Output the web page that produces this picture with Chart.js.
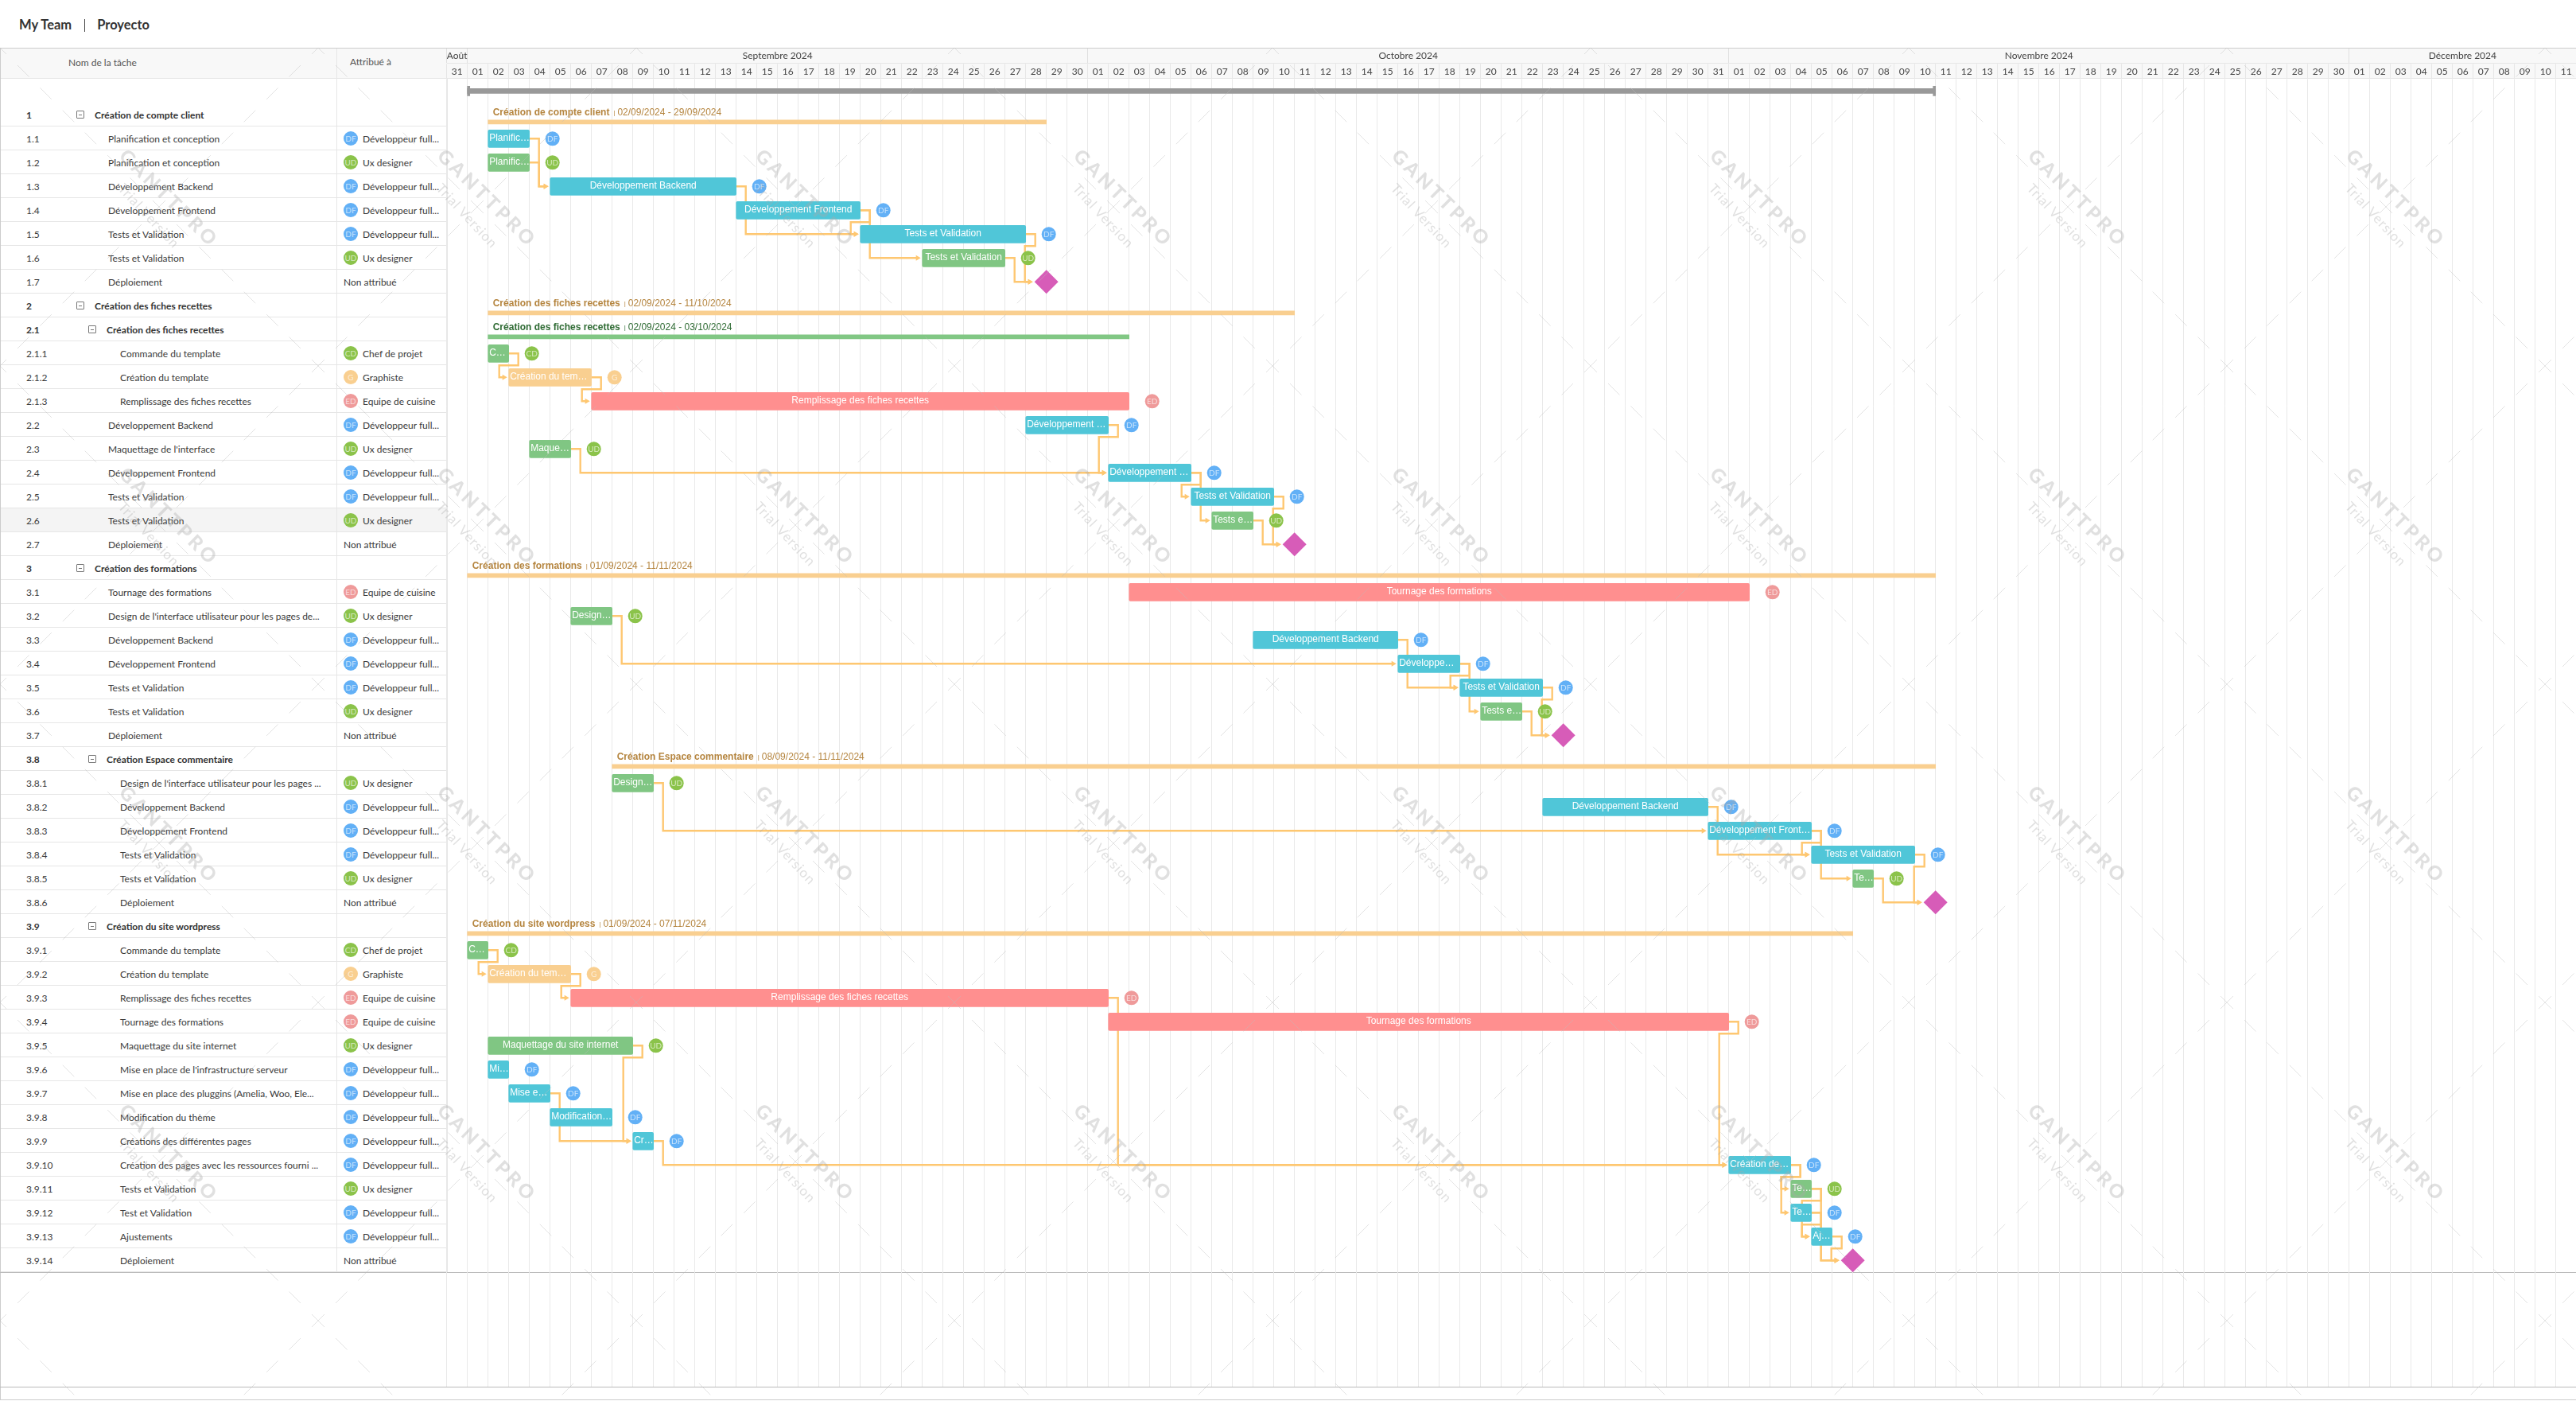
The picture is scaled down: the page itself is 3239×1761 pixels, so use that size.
<!DOCTYPE html>
<html lang="fr">
<head>
<meta charset="utf-8">
<title>My Team | Proyecto</title>
<script src="https://cdn.jsdelivr.net/npm/chart.js@4/dist/chart.umd.js"></script>
<style>
  html, body { margin: 0; padding: 0; background: #fff; overflow: hidden; width: 3239px; height: 1761px; font-family: Lato, sans-serif; color: #333; }
  #topbar { position: absolute; left: 24px; top: 20px; font-size: 16.5px; font-weight: 700; line-height: 22px; color: #333; white-space: nowrap; }
  #topbar i { display: inline-block; width: 1px; height: 16px; background: #444; margin: 0 15.5px 0 15.5px; vertical-align: -3px; }
  #frame { position: absolute; left: 0; top: 60px; width: 3239px; height: 1700px; border-top: 1px solid #ccc; border-bottom: 1px solid #ccc; border-left: 1px solid #ccc; box-sizing: border-box; }
  #sidehead { position: absolute; left: 1px; top: 61px; width: 561px; height: 37px; background: #f8f8f8; border-bottom: 1px solid #e6e6e6; font-size: 12px; color: #555; }
  #sidehead span { position: absolute; top: 10px; }
  .row { position: absolute; left: 1px; width: 561px; height: 30px; box-sizing: border-box; border-bottom: 1px solid #e6e6e6; font-size: 12px; line-height: 30px; color: #3a3a3a; white-space: nowrap; }
  .row.group { font-weight: 700; color: #333; }
  .row.hot { background: #f4f4f4; }
  .row span { position: absolute; top: 1px; }
  .toggle { width: 8px; height: 8px; top: 10px !important; border: 1px solid #777; border-radius: 1px; }
  .toggle:after { content: ""; position: absolute; left: 2px; top: 3.5px; width: 4px; height: 1px; background: #777; }
  .badge { width: 18px; height: 18px; top: 6px !important; border-radius: 50%; color: rgba(255,255,255,.65); font-size: 10px; font-weight: 400; line-height: 18px; text-align: center; }
  .vline { position: absolute; width: 1px; background: #e6e6e6; }
  .hline { position: absolute; left: 0; width: 3239px; height: 1px; background: #bbb; }
  #gantt { position: absolute; left: 0; top: 0; }
  #watermark { position: absolute; left: 0; top: 60px; width: 3239px; height: 1701px; pointer-events: none; }
</style>
</head>
<body>
<div id="topbar">My Team<i></i>Proyecto</div>
<div id="frame"></div>
<div id="sidehead"><span style="left:85px;top:10px">Nom de la tâche</span><span style="left:439px;top:9px">Attribué à</span></div>
<div id="rows"></div>
<div class="vline" style="left:423px;top:61px;height:1538px"></div>
<div class="vline" style="left:562px;top:61px;height:1538px"></div>
<div class="hline" style="top:1599px"></div>
<div class="hline" style="top:1743px"></div>
<canvas id="gantt" width="3240" height="1761"></canvas>
<div id="watermark"></div>

<script>
// header
const monthLabels = ['Août', 'Septembre 2024', 'Octobre 2024', 'Novembre 2024', 'Décembre 2024'];
const monthDays = [1, 30, 31, 30, 11];
const dayLabels = ['31',
  '01','02','03','04','05','06','07','08','09','10','11','12','13','14','15','16','17','18','19','20','21','22','23','24','25','26','27','28','29','30',
  '01','02','03','04','05','06','07','08','09','10','11','12','13','14','15','16','17','18','19','20','21','22','23','24','25','26','27','28','29','30','31',
  '01','02','03','04','05','06','07','08','09','10','11','12','13','14','15','16','17','18','19','20','21','22','23','24','25','26','27','28','29','30',
  '01','02','03','04','05','06','07','08','09','10','11'];

// tasks, one entry per table row. start/end are columns counted from 31 Aug
const rowIds = ['1','1.1','1.2','1.3','1.4','1.5','1.6','1.7',
  '2','2.1','2.1.1','2.1.2','2.1.3','2.2','2.3','2.4','2.5','2.6','2.7',
  '3','3.1','3.2','3.3','3.4','3.5','3.6','3.7',
  '3.8','3.8.1','3.8.2','3.8.3','3.8.4','3.8.5','3.8.6',
  '3.9','3.9.1','3.9.2','3.9.3','3.9.4','3.9.5','3.9.6','3.9.7','3.9.8','3.9.9','3.9.10','3.9.11','3.9.12','3.9.13','3.9.14'];
const rowNames = ['Création de compte client','Planification et conception','Planification et conception','Développement Backend','Développement Frontend','Tests et Validation','Tests et Validation','Déploiement',
  'Création des fiches recettes','Création des fiches recettes','Commande du template','Création du template','Remplissage des fiches recettes','Développement Backend','Maquettage de l\'interface','Développement Frontend','Tests et Validation','Tests et Validation','Déploiement',
  'Création des formations','Tournage des formations','Design de l\'interface utilisateur pour les pages de...','Développement Backend','Développement Frontend','Tests et Validation','Tests et Validation','Déploiement',
  'Création Espace commentaire','Design de l\'interface utilisateur pour les pages ...','Développement Backend','Développement Frontend','Tests et Validation','Tests et Validation','Déploiement',
  'Création du site wordpress','Commande du template','Création du template','Remplissage des fiches recettes','Tournage des formations','Maquettage du site internet','Mise en place de l\'infrastructure serveur','Mise en place des pluggins (Amelia, Woo, Ele...','Modification du thème','Créations des différentes pages','Création des pages avec les ressources fourni ...','Tests et Validation','Test et Validation','Ajustements','Déploiement'];
const rowAssignee = ['','DF','UD','DF','DF','DF','UD','NA',
  '','','CD','G','ED','DF','UD','DF','DF','UD','NA',
  '','ED','UD','DF','DF','DF','UD','NA',
  '','UD','DF','DF','DF','UD','NA',
  '','CD','G','ED','ED','UD','DF','DF','DF','DF','DF','UD','DF','DF','NA'];
const rowStart = [2,2,2,5,14,20,23,29,
  2,2,2,3,7,28,4,32,36,37,41,
  1,33,6,39,46,49,50,54,
  8,8,53,61,66,68,72,
  1,1,2,6,32,2,2,3,5,9,62,65,65,66,68];
const rowEnd = [29,4,4,14,20,28,27,29,
  41,33,3,7,33,32,6,36,40,39,41,
  72,63,8,46,49,53,52,54,
  72,10,61,66,71,69,72,
  68,2,6,32,62,9,3,5,8,10,65,66,66,67,68];
const barLabels = ['','Planific…','Planific…','Développement Backend','Développement Frontend','Tests et Validation','Tests et Validation','',
  '','','C…','Création du tem…','Remplissage des fiches recettes','Développement …','Maque…','Développement …','Tests et Validation','Tests e…','',
  '','Tournage des formations','Design…','Développement Backend','Développe…','Tests et Validation','Tests e…','',
  '','Design…','Développement Backend','Développement Front…','Tests et Validation','Te…','',
  '','C…','Création du tem…','Remplissage des fiches recettes','Tournage des formations','Maquettage du site internet','Mi…','Mise e…','Modification…','Cr…','Création de…','Te…','Te…','Aj…',''];
const summaryDates = {
  '1': '02/09/2024 - 29/09/2024',
  '2': '02/09/2024 - 11/10/2024',
  '2.1': '02/09/2024 - 03/10/2024',
  '3': '01/09/2024 - 11/11/2024',
  '3.8': '08/09/2024 - 11/11/2024',
  '3.9': '01/09/2024 - 07/11/2024'
};
const projectStart = 1;
const projectEnd = 72;

// dependency arrows, from task to task
const links = [
  ['1.1','1.3'],['1.2','1.3'],['1.3','1.5'],['1.4','1.5'],['1.4','1.6'],['1.5','1.7'],['1.6','1.7'],
  ['2.1.1','2.1.2'],['2.1.2','2.1.3'],['2.2','2.4'],['2.3','2.4'],['2.4','2.5'],['2.4','2.6'],['2.5','2.7'],['2.6','2.7'],
  ['3.2','3.4'],['3.3','3.5'],['3.4','3.5'],['3.4','3.6'],['3.5','3.7'],['3.6','3.7'],
  ['3.8.1','3.8.3'],['3.8.2','3.8.4'],['3.8.3','3.8.4'],['3.8.3','3.8.5'],['3.8.4','3.8.6'],['3.8.5','3.8.6'],
  ['3.9.1','3.9.2'],['3.9.2','3.9.3'],['3.9.3','3.9.10'],['3.9.4','3.9.10'],['3.9.5','3.9.9'],['3.9.7','3.9.9'],['3.9.9','3.9.10'],
  ['3.9.10','3.9.11'],['3.9.10','3.9.12'],['3.9.11','3.9.13'],['3.9.12','3.9.13'],['3.9.11','3.9.14'],['3.9.12','3.9.14'],['3.9.13','3.9.14']
];

const resourceNames = { DF: 'Développeur full...', UD: 'Ux designer', CD: 'Chef de projet', G: 'Graphiste', ED: 'Equipe de cuisine' };
const barColors = { DF: '#50c6d8', UD: '#80c683', CD: '#80c683', G: '#f9cf90', ED: '#ff8f8f' };
const badgeColors = { DF: '#62b0f6', UD: '#8bc34a', CD: '#8bc34a', G: '#f9cf90', ED: '#ef9a9a' };

const DAY_PX = 26;
const ROW_TOP = 129.3;
const ROW_PX = 30;
const LINK_COLOR = '#fec771';

function isSummary(i) { return rowAssignee[i] === ''; }
function isMilestone(i) { return rowAssignee[i] === 'NA'; }
function rowOf(id) { return rowIds.indexOf(id); }
// row 0 of the table sits one row below the top of the y scale
function rowCenter(i) { return i + 1.5; }

function buildTable() {
  const host = document.getElementById('rows');
  rowIds.forEach((id, i) => {
    const depth = id.split('.').length;
    const summary = isSummary(i);
    const row = document.createElement('div');
    row.className = 'row' + (summary ? ' group' : '') + (id === '2.6' ? ' hot' : '');
    row.style.top = (ROW_TOP + i * ROW_PX) + 'px';
    const add = (cls, left, text) => {
      const s = document.createElement('span');
      if (cls) s.className = cls;
      s.style.left = (left - 1) + 'px';
      if (text) s.textContent = text;
      row.appendChild(s);
      return s;
    };
    add('', 33, id);
    if (summary) {
      add('toggle', depth === 1 ? 96 : 111);
      add('', depth === 1 ? 119 : 134, rowNames[i]);
    } else {
      add('', depth === 2 ? 136 : 151, rowNames[i]);
    }
    const who = rowAssignee[i];
    if (who === 'NA') add('', 432, 'Non attribué');
    else if (who) {
      add('badge', 432, who).style.background = badgeColors[who];
      add('', 456, resourceNames[who]);
    }
    host.appendChild(row);
  });
}

function buildWatermark() {
  let dashes = '';
  // dashed diagonals of the trial tile, crossing at the tile corners and centre
  [[0, 0], [200, 200], [400, 0], [0, 400], [400, 400]].forEach(([cx, cy]) => {
    dashes += `M${cx - 8} ${cy - 8}L${cx + 8} ${cy + 8}M${cx - 8} ${cy + 8}L${cx + 8} ${cy - 8}`;
    for (let k = 1; k <= 3; k++) {
      const a = 8 + (k - 1) * 28.4 + 14;
      const b = a + 14.5;
      [[1, 1], [1, -1], [-1, 1], [-1, -1]].forEach(([sx, sy]) => {
        dashes += `M${cx + sx * a} ${cy + sy * a}L${cx + sx * b} ${cy + sy * b}`;
      });
    }
  });
  const svg = `<svg xmlns="http://www.w3.org/2000/svg" width="400" height="400">
    <path d="${dashes}" stroke="#bbb" stroke-opacity=".42" fill="none"/>
    <g font-family="Lato" fill="#aaa" fill-opacity=".36" text-anchor="middle">
      <text transform="translate(211 188) rotate(44.5)" y="8" font-size="24" font-weight="900" textLength="160" lengthAdjust="spacing" >GANTTPRO</text>
      <text transform="translate(187 211) rotate(47)" y="6" font-size="17" textLength="102">Trial Version</text>
    </g></svg>`;
  const wm = document.getElementById('watermark');
  wm.style.backgroundImage = `url("data:image/svg+xml,${encodeURIComponent(svg)}")`;
}

// Gantt elbow: right out of the bar, then straight down when there is room,
// otherwise back under the source row and in from the left of the target
function linkPath(fromId, toId) {
  const a = rowOf(fromId);
  const b = rowOf(toId);
  const stub = 12 / DAY_PX;
  const xe = rowEnd[a];
  const xs = rowStart[b] - (isMilestone(b) ? 15 / DAY_PX : 0);
  const tip = xs - 6 / DAY_PX;
  const pts = [{ x: xe, y: rowCenter(a) }, { x: xe + stub, y: rowCenter(a) }];
  if (xs - xe >= 24 / DAY_PX) {
    pts.push({ x: xe + stub, y: rowCenter(b) });
  } else {
    pts.push({ x: xe + stub, y: a + 2 });
    pts.push({ x: xs - stub, y: a + 2 });
    pts.push({ x: xs - stub, y: rowCenter(b) });
  }
  pts.push({ x: tip, y: rowCenter(b) });
  return pts;
}

function monthBounds() {
  const out = [];
  let at = 0;
  monthDays.forEach(n => { out.push([at, at + n]); at += n; });
  return out;
}

const headerPlugin = {
  id: 'ganttHeader',
  beforeDraw(chart) {
    const { ctx } = chart;
    const x = chart.scales.x;
    const left = x.left;
    const right = x.right;
    ctx.save();
    ctx.fillStyle = '#f8f8f8';
    ctx.fillRect(left, 61, right - left, 37.5);
    ctx.fillStyle = '#e6e6e6';
    ctx.fillRect(left, 79, right - left, 1);
    ctx.fillRect(left, 98, right - left, 1);
    ctx.fillStyle = '#e0e0e0';
    monthBounds().forEach(([a]) => ctx.fillRect(Math.floor(x.getPixelForValue(a)), 61, 1, 18));
    ctx.restore();
  },
  afterDraw(chart) {
    const { ctx } = chart;
    const x = chart.scales.x;
    ctx.save();
    ctx.font = '12px Lato';
    ctx.fillStyle = '#444';
    ctx.textBaseline = 'middle';
    monthBounds().forEach(([a, b], m) => {
      const p0 = x.getPixelForValue(a);
      const p1 = Math.min(x.getPixelForValue(b), 3239);
      ctx.save();
      ctx.beginPath();
      ctx.rect(p0, 61, p1 - p0, 18);
      ctx.clip();
      if (m === 0) { ctx.textAlign = 'left'; ctx.fillText(monthLabels[m], p0, 70); }
      else { ctx.textAlign = 'center'; ctx.fillText(monthLabels[m], (p0 + p1) / 2, 70); }
      ctx.restore();
    });
    ctx.restore();
  }
};

const labelPlugin = {
  id: 'ganttLabels',
  afterDatasetsDraw(chart) {
    const { ctx } = chart;
    const x = chart.scales.x;
    const y = chart.scales.y;
    ctx.save();
    ctx.textBaseline = 'middle';
    rowIds.forEach((id, i) => {
      const cy = y.getPixelForValue(rowCenter(i));
      if (isSummary(i)) {
        const color = id === '2.1' ? '#2f6b34' : '#b5853f';
        const px = x.getPixelForValue(rowStart[i]) + 6;
        ctx.fillStyle = color;
        ctx.textAlign = 'left';
        ctx.font = 'bold 12px "Liberation Sans"';
        ctx.fillText(rowNames[i], px, cy - 2.5);
        const w = ctx.measureText(rowNames[i]).width;
        ctx.font = '8px "Liberation Sans"';
        ctx.fillText('|', px + w + 5, cy - 2.5);
        ctx.font = '12px "Liberation Sans"';
        ctx.fillText(summaryDates[id], px + w + 10, cy - 2.5);
      } else if (!isMilestone(i)) {
        const a = x.getPixelForValue(rowStart[i]);
        const b = x.getPixelForValue(rowEnd[i]);
        const text = barLabels[i];
        ctx.fillStyle = '#fff';
        ctx.font = '12px "Liberation Sans"';
        if (text.endsWith('…')) {
          ctx.textAlign = 'left';
          ctx.fillText(text, a + 1.5, cy - 1);
        } else {
          ctx.textAlign = 'center';
          ctx.fillText(text, (a + b) / 2, cy - 1);
        }
        // initials on the avatar next to the bar
        ctx.fillStyle = 'rgba(255,255,255,.65)';
        ctx.font = '10px Lato';
        ctx.textAlign = 'center';
        ctx.fillText(rowAssignee[i], x.getPixelForValue(avatarX(i)), cy);
      }
    });
    ctx.restore();
  }
};

function avatarX(i) { return rowEnd[i] + 29 / DAY_PX; }

function renderChart() {
  const taskIdx = rowIds.map((_, i) => i).filter(i => !isSummary(i) && !isMilestone(i));
  const summaryIdx = rowIds.map((_, i) => i).filter(isSummary);
  const milestoneIdx = rowIds.map((_, i) => i).filter(isMilestone);

  const datasets = [];
  links.forEach(([a, b]) => {
    datasets.push({
      type: 'line',
      data: linkPath(a, b),
      borderColor: LINK_COLOR,
      borderWidth: 2.4,
      tension: 0,
      fill: false,
      order: 5,
      pointStyle: 'triangle',
      pointRotation: 90,
      pointBorderWidth: 0,
      pointBackgroundColor: LINK_COLOR,
      pointRadius: c => (c.dataIndex === c.dataset.data.length - 1 ? 4 : 0)
    });
  });
  datasets.push({
    type: 'bar', indexAxis: 'y', grouped: false, order: 4,
    data: [{ x: [projectStart, projectEnd], y: 0.5 }],
    backgroundColor: '#999', barThickness: 6, borderSkipped: false
  });
  datasets.push({
    type: 'bar', indexAxis: 'y', grouped: false, order: 4,
    data: [{ x: [projectStart, projectStart + 3 / DAY_PX], y: 0.5 }, { x: [projectEnd - 3 / DAY_PX, projectEnd], y: 0.5 }],
    backgroundColor: '#999', barThickness: 12, borderSkipped: false
  });
  datasets.push({
    type: 'bar', indexAxis: 'y', grouped: false, order: 4,
    data: summaryIdx.map(i => ({ x: [rowStart[i], rowEnd[i]], y: rowCenter(i) + 0.3 })),
    backgroundColor: summaryIdx.map(i => (rowIds[i] === '2.1' ? '#81c784' : '#f9cf90')),
    barThickness: 5, borderSkipped: false
  });
  datasets.push({
    type: 'bar', indexAxis: 'y', grouped: false, order: 3,
    data: taskIdx.map(i => ({ x: [rowStart[i], rowEnd[i]], y: rowCenter(i) })),
    backgroundColor: taskIdx.map(i => barColors[rowAssignee[i]]),
    barThickness: 22, borderRadius: 2, borderSkipped: false
  });
  datasets.push({
    type: 'scatter', order: 2,
    data: taskIdx.map(i => ({ x: avatarX(i), y: rowCenter(i) })),
    backgroundColor: taskIdx.map(i => badgeColors[rowAssignee[i]]),
    pointRadius: 9, pointBorderWidth: 0
  });
  datasets.push({
    type: 'scatter', order: 1,
    data: milestoneIdx.map(i => ({ x: rowStart[i], y: rowCenter(i) })),
    backgroundColor: '#d75cb8', pointStyle: 'rectRot', pointRadius: 15, pointBorderWidth: 0
  });

  new Chart(document.getElementById('gantt'), {
    type: 'bar',
    data: { datasets },
    options: {
      responsive: false,
      animation: false,
      events: [],
      layout: { autoPadding: false, padding: { left: 561.7, right: 0.3, top: 79.3, bottom: 17.7 } },
      plugins: { legend: { display: false }, tooltip: { enabled: false } },
      scales: {
        x: {
          type: 'linear', min: 0, max: 103, offset: false, position: 'bottom',
          afterFit(axis) { axis.height = 0; },
          grid: { offset: false, color: '#e9e9e9', lineWidth: 1, drawTicks: false },
          border: { display: false },
          ticks: { display: false, stepSize: 1, autoSkip: false }
        },
        xDays: {
          type: 'category', labels: dayLabels, position: 'top', offset: true,
          afterFit(axis) { axis.height = 20; },
          grid: { offset: true, drawOnChartArea: false, tickLength: 19, color: '#e6e6e6' },
          border: { display: false },
          ticks: { autoSkip: false, maxRotation: 0, minRotation: 0, padding: -17, color: '#444', font: { family: 'Lato', size: 12 } }
        },
        y: {
          type: 'linear', min: 0, max: 54.8, reverse: true, offset: false, display: false,
          grid: { display: false, offset: false }
        }
      }
    },
    plugins: [headerPlugin, labelPlugin]
  });
}

function init() {
  buildTable();
  buildWatermark();
  renderChart();
}
document.addEventListener('DOMContentLoaded', init);
</script>
</body>
</html>
